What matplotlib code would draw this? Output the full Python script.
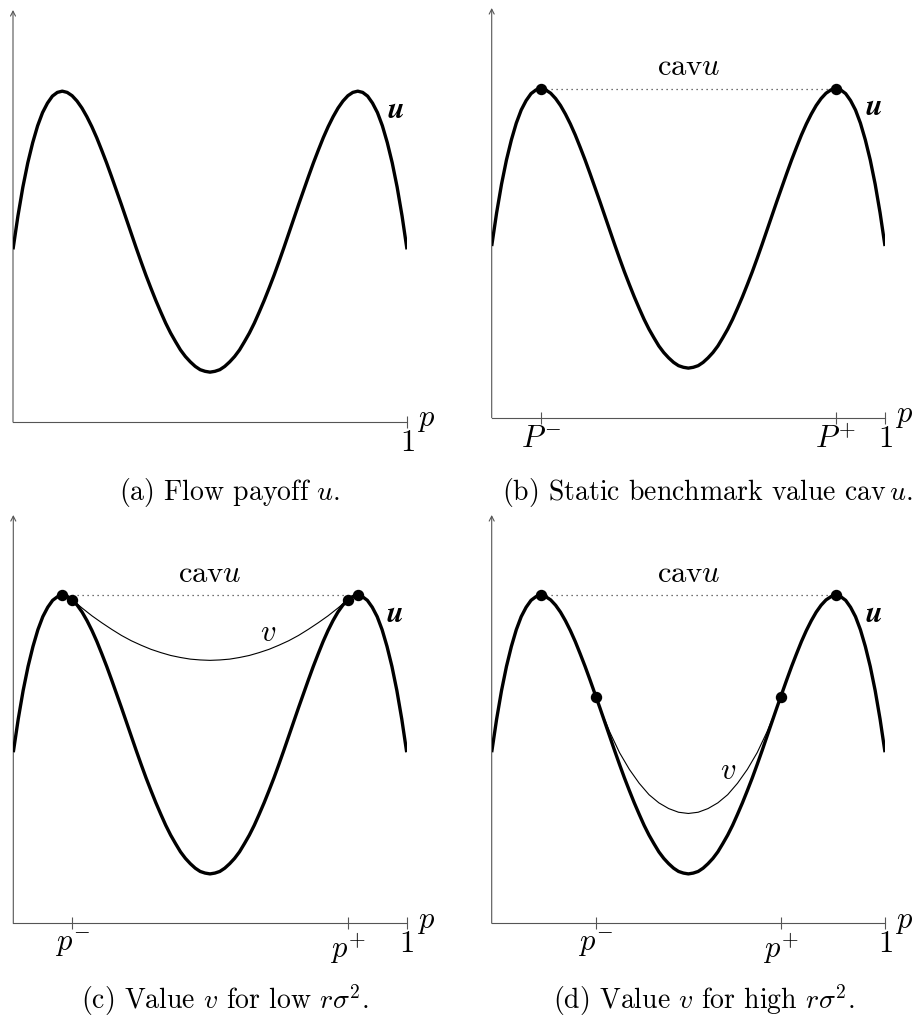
import matplotlib
matplotlib.use('Agg')
import matplotlib.pyplot as plt

plt.rcParams['mathtext.fontset'] = 'cm'
plt.rcParams['font.family'] = 'cmr10'
plt.rcParams['axes.formatter.use_mathtext'] = True

# ---------------- data ----------------
p_grid = [0.0, 0.0125, 0.025, 0.0375, 0.05, 0.0625, 0.075, 0.0875, 0.1, 0.1125,
          0.125, 0.1375, 0.15, 0.1625, 0.175, 0.1875, 0.2, 0.2125, 0.225, 0.2375,
          0.25, 0.2625, 0.275, 0.2875, 0.3, 0.3125, 0.325, 0.3375, 0.35, 0.3625,
          0.375, 0.3875, 0.4, 0.4125, 0.425, 0.4375, 0.45, 0.4625, 0.475, 0.4875,
          0.5, 0.5125, 0.525, 0.5375, 0.55, 0.5625, 0.575, 0.5875, 0.6, 0.6125,
          0.625, 0.6375, 0.65, 0.6625, 0.675, 0.6875, 0.7, 0.7125, 0.725, 0.7375,
          0.75, 0.7625, 0.775, 0.7875, 0.8, 0.8125, 0.825, 0.8375, 0.85, 0.8625,
          0.875, 0.8875, 0.9, 0.9125, 0.925, 0.9375, 0.95, 0.9625, 0.975, 0.9875, 1.0]
u_vals = [0.419, 0.500, 0.570, 0.629, 0.678, 0.719, 0.751, 0.774, 0.791, 0.800,
          0.803, 0.800, 0.792, 0.779, 0.762, 0.741, 0.717, 0.690, 0.660, 0.629,
          0.596, 0.562, 0.528, 0.493, 0.458, 0.423, 0.389, 0.356, 0.325, 0.295,
          0.267, 0.240, 0.216, 0.195, 0.175, 0.159, 0.146, 0.135, 0.127, 0.123,
          0.121, 0.123, 0.127, 0.135, 0.146, 0.159, 0.175, 0.195, 0.216, 0.240,
          0.267, 0.295, 0.325, 0.356, 0.389, 0.423, 0.458, 0.493, 0.528, 0.562,
          0.596, 0.629, 0.660, 0.690, 0.717, 0.741, 0.762, 0.779, 0.792, 0.800,
          0.803, 0.800, 0.791, 0.774, 0.751, 0.719, 0.678, 0.629, 0.570, 0.500, 0.419]

# value v, low r*sigma^2 (panel c)
vc_p = [0.15, 0.175, 0.2, 0.225, 0.25, 0.275, 0.3, 0.325, 0.35, 0.375, 0.4, 0.425,
        0.45, 0.475, 0.5, 0.525, 0.55, 0.575, 0.6, 0.625, 0.65, 0.675, 0.7, 0.725,
        0.75, 0.775, 0.8, 0.825, 0.85]
vc_vals = [0.792, 0.772, 0.753, 0.736, 0.720, 0.705, 0.692, 0.681, 0.671, 0.663,
           0.656, 0.651, 0.647, 0.645, 0.644, 0.645, 0.647, 0.651, 0.656, 0.663,
           0.671, 0.681, 0.692, 0.705, 0.720, 0.736, 0.753, 0.772, 0.792]

# value v, high r*sigma^2 (panel d)
vd_p = [0.265, 0.275, 0.3, 0.325, 0.35, 0.375, 0.4, 0.425, 0.45, 0.475, 0.5,
        0.525, 0.55, 0.575, 0.6, 0.625, 0.65, 0.675, 0.7, 0.725, 0.735]
vd_vals = [0.555, 0.528, 0.469, 0.418, 0.377, 0.343, 0.315, 0.295, 0.281, 0.272, 0.269,
           0.272, 0.281, 0.295, 0.315, 0.343, 0.377, 0.418, 0.469, 0.528, 0.555]

cav_level = 0.803
cav_span = [0.125, 0.875]

dots_b_p = [0.125, 0.875]
dots_b_v = [0.803, 0.803]
dots_c_p = [0.125, 0.15, 0.85, 0.875]
dots_c_v = [0.803, 0.792, 0.792, 0.803]
dots_d_p = [0.125, 0.265, 0.735, 0.875]
dots_d_v = [0.803, 0.555, 0.555, 0.803]

ticks_a = [1.0]
labels_a = [r'$1$']
ticks_b = [0.125, 0.875, 1.0]
labels_b = [r'$P^{-}$', r'$P^{+}$', r'$1$']
ticks_c = [0.15, 0.85, 1.0]
labels_c = [r'$p^{-}$', r'$p^{+}$', r'$1$']
ticks_d = [0.265, 0.735, 1.0]
labels_d = [r'$p^{-}$', r'$p^{+}$', r'$1$']

captions = [r'(a) Flow payoff $u$.',
            r'(b) Static benchmark value $\mathrm{cav}\,u$.',
            r'(c) Value $v$ for low $r\sigma^2$.',
            r'(d) Value $v$ for high $r\sigma^2$.']

# ---------------- drawing ----------------
W, H = 914, 1028
fig = plt.figure(figsize=(W / 100, H / 100), dpi=100)
AXIS = '#555555'
LBL = 22


def make_ax(x0, x1, ybot, ytop, ticks, labels):
    ax = fig.add_axes([x0 / W, 1 - ybot / H, (x1 - x0) / W, (ybot - ytop) / H])
    ax.set_xlim(0, 1)
    ax.set_ylim(0, 1)
    ax.patch.set_visible(False)
    for s in ['top', 'right', 'left']:
        ax.spines[s].set_visible(False)
    ax.spines['bottom'].set_color(AXIS)
    ax.spines['bottom'].set_linewidth(0.8)
    ax.annotate('', xy=(0, 1), xytext=(0, 0), xycoords='axes fraction',
                arrowprops=dict(arrowstyle='->,head_length=0.35,head_width=0.18',
                                color=AXIS, lw=0.8, shrinkA=0, shrinkB=0))
    ax.set_yticks([])
    ax.set_xticks(ticks)
    ax.set_xticklabels(labels, fontsize=LBL)
    ax.tick_params(axis='x', direction='inout', length=9, width=0.8,
                   color=AXIS, pad=1)
    ax.text(1.025, 0.003, r'$p$', fontsize=LBL, ha='left', va='center')
    ax.plot(p_grid, u_vals, color='black', lw=2.4, solid_capstyle='butt',
            solid_joinstyle='round', zorder=3)
    ax.text(0.97, 0.757, r'$\boldsymbol{u}$', fontsize=LBL, ha='center', va='center')
    return ax


ax_a = make_ax(13, 407, 422, 10, ticks_a, labels_a)
ax_b = make_ax(491.7, 885, 417.7, 8, ticks_b, labels_b)
ax_c = make_ax(13.3, 406.7, 923.3, 515, ticks_c, labels_c)
ax_d = make_ax(491.7, 885, 923.3, 515, ticks_d, labels_d)

for ax, dp, dv in [(ax_b, dots_b_p, dots_b_v), (ax_c, dots_c_p, dots_c_v),
                   (ax_d, dots_d_p, dots_d_v)]:
    ax.plot(cav_span, [cav_level, cav_level], color='#444444', lw=0.9,
            linestyle=(0, (1, 3)), zorder=2)
    ax.text(0.5, 0.855, r'$\mathrm{cav}u$', fontsize=LBL, ha='center', va='center')
    ax.plot(dp, dv, 'o', color='black', markersize=7.2, zorder=5)

ax_c.plot(vc_p, vc_vals, color='black', lw=0.8, zorder=2)
ax_c.text(0.649, 0.711, r'$v$', fontsize=LBL, ha='center', va='center')
ax_d.plot(vd_p, vd_vals, color='black', lw=0.8, zorder=2)
ax_d.text(0.601, 0.372, r'$v$', fontsize=LBL, ha='center', va='center')

cap_pos = [(229, 492), (707, 492), (225, 1000), (704, 1000)]
for (cx, cy), txt in zip(cap_pos, captions):
    fig.text(cx / W, 1 - cy / H, txt, fontsize=20, ha='center', va='center')

fig.savefig('out.png', dpi=100)
